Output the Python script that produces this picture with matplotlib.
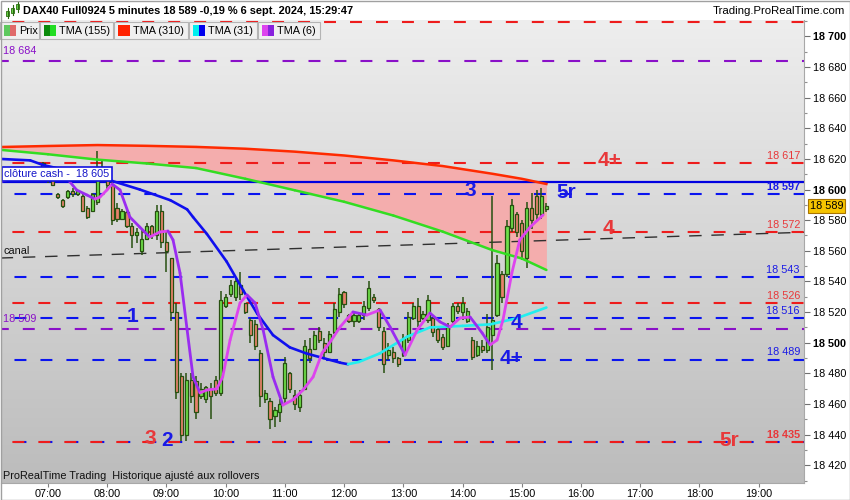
import numpy as np
import matplotlib
matplotlib.use("Agg")
import matplotlib.pyplot as plt
import matplotlib.transforms as mtransforms
from matplotlib.collections import LineCollection
from matplotlib.colors import LinearSegmentedColormap
from matplotlib.patches import Rectangle

plt.rcParams['font.family'] = ['Liberation Sans', 'DejaVu Sans']
plt.rcParams['lines.scale_dashes'] = False

# ---- data: time in minutes after 07:00, 5 minute candles ----
t_candle = list(range(-5, 510, 5))
opens = [18614, 18610, 18606, 18597, 18593, 18595, 18599, 18597, 18596, 18588,
         18586, 18592, 18615, 18608, 18603, 18588, 18581, 18585, 18576, 18570,
         18560, 18568, 18576, 18570, 18586, 18566, 18555, 18520, 18478, 18440,
         18476, 18475, 18465, 18463, 18470, 18476, 18467, 18524, 18532, 18530,
         18538, 18526, 18515, 18512, 18493, 18463, 18462, 18452, 18455, 18464,
         18480, 18466, 18458, 18470, 18496, 18496, 18508, 18500, 18494, 18507,
         18520, 18533, 18518, 18514, 18514, 18518, 18523, 18530, 18522, 18508,
         18492, 18494, 18490, 18492, 18502, 18516, 18524, 18516, 18515, 18516,
         18509, 18504, 18498, 18514, 18524, 18520, 18514, 18502, 18492, 18498,
         18495, 18505, 18518, 18545, 18545, 18575, 18584, 18578, 18555, 18588,
         18596, 18584, 18587]
highs = [18618, 18612, 18607, 18598, 18594, 18600, 18601, 18600, 18597, 18589,
         18598, 18625, 18620, 18610, 18606, 18591, 18587, 18586, 18578, 18575,
         18574, 18578, 18577, 18590, 18590, 18572, 18555, 18526, 18480, 18480,
         18480, 18478, 18474, 18472, 18474, 18478, 18534, 18532, 18541, 18542,
         18546, 18526, 18516, 18515, 18495, 18469, 18464, 18458, 18463, 18491,
         18481, 18469, 18469, 18502, 18503, 18508, 18510, 18503, 18508, 18526,
         18536, 18534, 18519, 18521, 18519, 18527, 18540, 18532, 18523, 18510,
         18500, 18497, 18491, 18506, 18520, 18526, 18529, 18521, 18531, 18517,
         18510, 18506, 18513, 18526, 18526, 18530, 18523, 18504, 18501, 18502,
         18519, 18596, 18557, 18547, 18580, 18594, 18585, 18580, 18592, 18598,
         18600, 18601, 18591]
lows = [18613, 18604, 18602, 18594, 18588, 18594, 18595, 18596, 18585, 18581,
        18585, 18590, 18605, 18600, 18577, 18579, 18580, 18575, 18562, 18565,
        18557, 18568, 18568, 18567, 18562, 18546, 18514, 18463, 18436, 18436,
        18461, 18450, 18463, 18461, 18450, 18465, 18465, 18523, 18530, 18527,
        18528, 18519, 18500, 18495, 18458, 18461, 18444, 18445, 18448, 18461,
        18467, 18456, 18455, 18469, 18487, 18495, 18500, 18491, 18493, 18506,
        18517, 18523, 18513, 18510, 18513, 18515, 18521, 18526, 18508, 18480,
        18489, 18487, 18484, 18491, 18500, 18515, 18510, 18515, 18513, 18504,
        18500, 18495, 18497, 18513, 18519, 18515, 18513, 18489, 18491, 18493,
        18493, 18482, 18517, 18526, 18543, 18572, 18569, 18554, 18549, 18574,
        18580, 18581, 18585]
closes = [18617, 18606, 18603, 18595, 18589, 18599, 18597, 18599, 18586, 18582,
          18597, 18615, 18608, 18603, 18580, 18581, 18586, 18576, 18570, 18572,
          18568, 18576, 18570, 18586, 18566, 18560, 18520, 18468, 18440, 18476,
          18465, 18455, 18470, 18471, 18465, 18467, 18528, 18530, 18538, 18540,
          18532, 18520, 18505, 18498, 18465, 18467, 18450, 18456, 18460, 18487,
          18470, 18460, 18466, 18498, 18490, 18505, 18502, 18494, 18506, 18522,
          18532, 18525, 18514, 18518, 18518, 18524, 18536, 18528, 18510, 18486,
          18495, 18490, 18486, 18503, 18517, 18524, 18514, 18519, 18528, 18507,
          18502, 18497, 18510, 18524, 18521, 18526, 18521, 18491, 18498, 18495,
          18510, 18515, 18552, 18530, 18576, 18590, 18572, 18560, 18588, 18580,
          18584, 18596, 18589]

# moving averages
ma_t = [-50, 0, 50, 100, 150, 200, 250, 300, 350, 400, 450, 480, 505]
tma310 = [18627.7, 18628.4, 18629.0, 18628.5, 18627.8, 18626.6, 18624.7,
          18622.2, 18619.0, 18615.3, 18610.3, 18607.0, 18603.6]
tma155 = [18626, 18623, 18619.5, 18617, 18614, 18607, 18599.5,
          18592, 18583, 18572.5, 18560.5, 18555, 18547.5]
t31 = [-50, -18, -5, 63, 93, 124, 141, 147, 161, 181, 198, 212, 228, 245,
       262, 279, 296, 304, 315, 336, 364, 387, 420, 448, 475, 505]
tma31 = [18620, 18619, 18616, 18606, 18600, 18593, 18587, 18582, 18571, 18553,
         18534, 18519, 18505, 18497, 18493, 18490, 18487, 18486, 18487.5, 18493,
         18504, 18510, 18511, 18512, 18516, 18523]
t6 = [-50, -25, 0, 19, 29, 39.5, 47.6, 52.7, 59.8, 65, 73, 83, 93, 103, 113.5,
      121.6, 126.7, 133.8, 141, 147, 154, 161, 171, 177, 184.5, 194.6, 201.7,
      209.8, 218, 228, 238, 248, 258.4, 268.6, 277.7, 285.8, 296, 309, 323,
      336.5, 346.6, 361.8, 374, 387, 397.3, 407.4, 417.6, 427.7, 439.9, 448,
      455, 461, 470, 478, 488.5, 501.7]
tma6 = [18605, 18609, 18610, 18607.5, 18599.7, 18596.4, 18593.8, 18595.1,
        18599.7, 18603.6, 18599.7, 18582, 18575.5, 18569, 18572.3, 18572.9,
        18567.1, 18545.5, 18508.3, 18477.7, 18467.3, 18469.2, 18469.9, 18477.7,
        18501.8, 18526, 18531.2, 18526, 18508.3, 18477.7, 18459.4, 18462.7,
        18469.2, 18477.7, 18493.3, 18500.5, 18510.3, 18520.1, 18518.1, 18521.4,
        18510.3, 18492, 18508.3, 18519.4, 18513.6, 18510.3, 18516.2, 18516.8,
        18506.4, 18498.6, 18501.8, 18514.9, 18545.5, 18567.1, 18575.5, 18583.4]

# horizontal levels
red_levels = [18709, 18617, 18572, 18526, 18435]
blue_levels = [18597, 18543, 18516, 18489, 18435]
purple_levels = [18684, 18509]
cash_close = 18605
last_price = 18589
canal_t = [-48, 766]
canal_p = [18555.3, 18572.1]

time_ticks = list(range(0, 721, 60))
time_labels = ["%02d:00" % (7 + i) for i in range(len(time_ticks))]
price_ticks = list(range(18420, 18701, 20))

W, H = 850, 500
AX_L, AX_R, AX_T, AX_B = 1, 804, 20, 483
FS = 7.8

fig = plt.figure(figsize=(8.5, 5), dpi=100, facecolor='white')
ax = fig.add_axes([AX_L / W, 1 - AX_B / H, (AX_R - AX_L) / W, (AX_B - AX_T) / H])


def px(x, y):
    # pixel position in the picture -> axes fraction
    return (x - AX_L) / (AX_R - AX_L), (AX_B - y) / (AX_B - AX_T)


RED = '#ee1c1c'
BLUE = '#0a14f0'
PURPLE = '#8a10c8'
TXT_RED = '#e8383a'
TXT_BLUE = '#1a1ae6'

# background gradient
grad = np.linspace(0, 1, 256).reshape(-1, 1)
bg = LinearSegmentedColormap.from_list('bg', ['#eeeeee', '#bcbcbc'])
ax.imshow(grad, cmap=bg, aspect='auto', extent=[0, 1, 0, 1],
          transform=ax.transAxes, zorder=0)

# band between the two long averages
ax.fill_between(ma_t, tma155, tma310, color='#f4adad', lw=0, zorder=1)

# levels
dash = (8.6, 10.1)
for p in purple_levels:
    ax.axhline(p, color=PURPLE, lw=1.5, ls=(3, dash), zorder=2)
for p in blue_levels:
    ax.axhline(p, color=BLUE, lw=1.5, ls=(9, dash), zorder=2)
for p in red_levels:
    ax.axhline(p, color=RED, lw=1.5, ls=(10.5, dash), zorder=2.1)
ax.axhline(cash_close, color='#0000e0', lw=1.6, zorder=2.2)
ax.plot(canal_t, canal_p, color='#303030', lw=1.0, ls=(0, (9, 7)), zorder=2)

# candles
t = np.array(t_candle, float)
o, h, l, c = (np.array(a, float) for a in (opens, highs, lows, closes))
up = c >= o
edge = '#275010'
ax.vlines(t, l, h, color=edge, lw=1.1, zorder=3)
ax.bar(t, np.maximum(np.abs(c - o), 0.6), bottom=np.minimum(o, c), width=3.2,
       color=np.where(up, '#6ee04a', '#e9826c'), edgecolor=edge, lw=0.9,
       zorder=3.5)


def slope_line(tt, vv, col_up, col_down, lw):
    pts = np.column_stack([tt, vv])
    segs = np.stack([pts[:-1], pts[1:]], axis=1)
    cols = [col_up if b >= a else col_down for a, b in zip(vv[:-1], vv[1:])]
    lc = LineCollection(segs, colors=cols, linewidths=lw, capstyle='round',
                        joinstyle='round', zorder=4)
    ax.add_collection(lc)


ax.plot(ma_t, tma310, color='#ff2a00', lw=1.8, zorder=4)
slope_line(ma_t, tma155, '#0a8a0a', '#33dd22', 1.8)
slope_line(t31, tma31, '#22eeee', '#1010ee', 1.9)
slope_line(t6, tma6, '#dd44ee', '#9a2cf0', 2.0)

# level labels
blend = mtransforms.blended_transform_factory(ax.transAxes, ax.transData)
xr = px(800, 0)[0]
for p in red_levels[1:]:
    ax.text(xr, p + 1.5, "%d %03d" % (p // 1000, p % 1000), color=TXT_RED,
            fontsize=FS, ha='right', va='bottom', transform=blend, zorder=5,
            fontweight='bold' if p == 18435 else 'normal')
for p in blue_levels[:-1]:
    ax.text(xr, p + 1.5, "%d %03d" % (p // 1000, p % 1000), color=TXT_BLUE,
            fontsize=FS, ha='right', va='bottom', transform=blend, zorder=5,
            fontweight='bold' if p == 18597 else 'normal')
for p in purple_levels:
    ax.text(px(3, 0)[0], p + 3, "%d %03d" % (p // 1000, p % 1000), color=PURPLE,
            fontsize=FS, ha='left', va='bottom', transform=blend, zorder=5)
ax.text(*px(3, 251), "canal", fontsize=FS, color='#111111', va='center',
        transform=ax.transAxes, zorder=5)
ax.text(*px(4, 174), "clôture cash -  18 605", fontsize=FS, color='#1414c8',
        va='center', transform=ax.transAxes, zorder=6,
        bbox=dict(boxstyle='square,pad=0.22', fc='white', ec='#1010e0', lw=1.2))
ax.text(*px(3, 476), "ProRealTime Trading  Historique ajusté aux rollovers",
        fontsize=FS, color='#111111', va='center', transform=ax.transAxes,
        zorder=5)

# wave marks
marks = [("4+", TXT_RED, 610, 161), ("3", TXT_BLUE, 470, 190),
         ("5r", TXT_BLUE, 566, 193), ("4", TXT_RED, 608, 229),
         ("1", TXT_BLUE, 133, 317), ("4", TXT_BLUE, 516, 323),
         ("4+", TXT_BLUE, 512, 359), ("3", TXT_RED, 150, 438),
         ("2", TXT_BLUE, 167, 440), ("5r", TXT_RED, 729, 441)]
for s, col, x, y in marks:
    ax.text(*px(x, y), s, color=col, fontsize=15, fontweight='bold',
            ha='center', va='center', transform=ax.transAxes, zorder=6)

# last price tag
ax.text(px(810, 0)[0], last_price, "18 589", transform=blend, fontsize=FS,
        ha='left', va='center', clip_on=False, zorder=7,
        bbox=dict(boxstyle='square,pad=0.18', fc='#f6c400', ec='#a87400', lw=0.8))

# axes
ax.set_xlim(-47.6, 766)
ax.set_ylim(18408.5, 18710.6)
ax.yaxis.tick_right()
ax.set_yticks(price_ticks)
ax.set_yticklabels(["%d %03d" % (v // 1000, v % 1000) for v in price_ticks])
for lab, v in zip(ax.get_yticklabels(), price_ticks):
    if v % 100 == 0:
        lab.set_fontweight('bold')
        lab.set_fontsize(8.6)
ax.set_yticks(range(18410, 18711, 10), minor=True)
ax.tick_params(axis='y', which='major', length=4, width=0.8, color='#707070',
               pad=2.5, labelsize=FS)
ax.tick_params(axis='y', which='minor', length=2.5, width=0.8, color='#909090')
ax.set_xticks(time_ticks)
ax.set_xticklabels(time_labels)
ax.tick_params(axis='x', length=3, width=0.8, color='#808080', pad=1,
               labelsize=FS)
for side in ('top', 'left'):
    ax.spines[side].set_visible(False)
for side in ('right', 'bottom'):
    ax.spines[side].set_color('#a8a8a8')

# header
def fig_rect(x0, y0, w, h, **kw):
    fig.add_artist(Rectangle((x0 / W, 1 - (y0 + h) / H), w / W, h / H,
                             transform=fig.transFigure, **kw))


for x0, hi, lo, b0, b1 in [(6, 8, 18, 11, 16), (11, 5, 15, 8, 13),
                           (16, 2, 12, 4, 9)]:
    fig.add_artist(plt.Line2D([(x0 + 1.5) / W] * 2, [1 - hi / H, 1 - lo / H],
                              color='#2a6a10', lw=0.8, transform=fig.transFigure))
    fig_rect(x0, b0, 3, b1 - b0, fc='#66d844', ec='#2a6a10', lw=0.6)
fig.text(23 / W, 1 - 11 / H,
         "DAX40 Full0924 5 minutes 18 589 -0,19 % 6 sept. 2024, 15:29:47",
         fontsize=7.9, fontweight='bold', va='center')
fig.text(845 / W, 1 - 11 / H, "Trading.ProRealTime.com", fontsize=8.2,
         ha='right', va='center')

legend_items = [("Prix", '#5ec95e', '#e06a6a', 0, 39),
                ("TMA (155)", '#0a8a0a', '#22dd22', 40, 113),
                ("TMA (310)", '#ff2200', '#ff2200', 114, 188),
                ("TMA (31)", '#00eeee', '#0000ee', 189, 257),
                ("TMA (6)", '#dd44ee', '#8822dd', 258, 320)]
for name, c1, c2, x0, x1 in legend_items:
    fig_rect(x0, 22, x1 - x0, 17, fc='#f0f0f0', ec='#b4b4b4', lw=0.8, zorder=10)
    fig_rect(x0 + 4, 25, 6, 11, fc=c1, ec='none', zorder=11)
    fig_rect(x0 + 10, 25, 6, 11, fc=c2, ec='none', zorder=11)
    fig.text((x0 + 19) / W, 1 - 31 / H, name, fontsize=7.8, va='center',
             zorder=12)

fig_rect(0.5, 0.5, W - 1, H - 1, fill=False, ec='#a0a0a0', lw=1, zorder=20)

fig.savefig("out.png", dpi=100)
